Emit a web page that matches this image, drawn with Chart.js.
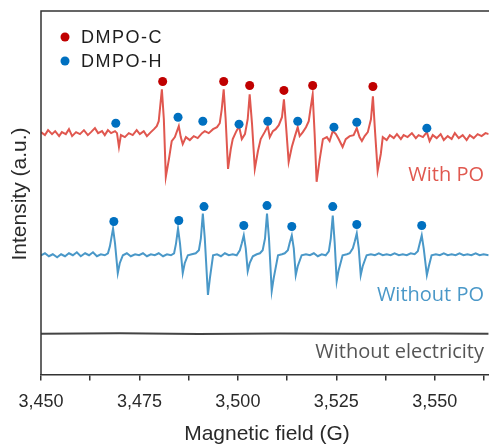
<!DOCTYPE html>
<html>
<head>
<meta charset="utf-8">
<script src="https://cdn.jsdelivr.net/npm/chart.js@4"></script>
<style>
  body { margin: 0; background: #fff; }
  #wrap { width: 489px; height: 445px; overflow: hidden; }
</style>
</head>
<body>
<div id="wrap"><canvas id="chart" width="495" height="445"></canvas></div>
<script>
// x tick values shown on the axis (G)
const xTickLabels = [3450, 3475, 3500, 3525, 3550];

// With PO trace: magnetic field (G) and intensity (a.u., offset)
const withPoField = [3450.0, 3451.0, 3451.8, 3452.8, 3453.6, 3454.6, 3455.3, 3456.3, 3457.1, 3457.9, 3458.9, 3459.9, 3460.9, 3461.9, 3462.7, 3463.7, 3464.5, 3465.5, 3466.2, 3467.0, 3467.8, 3468.8, 3469.3, 3469.8, 3470.3, 3471.3, 3472.3, 3473.3, 3474.3, 3475.1, 3476.1, 3476.9, 3477.9, 3478.7, 3479.4, 3479.9, 3480.7, 3481.2, 3481.7, 3482.5, 3483.2, 3484.0, 3485.0, 3485.5, 3486.0, 3486.8, 3487.8, 3488.8, 3489.8, 3490.9, 3491.6, 3492.6, 3493.7, 3494.7, 3495.4, 3495.9, 3496.4, 3496.9, 3497.5, 3498.2, 3498.7, 3499.5, 3500.3, 3501.0, 3501.8, 3502.5, 3503.0, 3503.6, 3504.3, 3505.1, 3505.8, 3506.8, 3507.6, 3508.1, 3508.9, 3509.6, 3510.4, 3511.2, 3511.7, 3512.2, 3512.9, 3513.7, 3514.5, 3515.2, 3515.7, 3516.5, 3517.3, 3518.0, 3518.5, 3519.0, 3519.5, 3520.0, 3520.8, 3521.6, 3522.6, 3523.3, 3524.1, 3524.9, 3525.6, 3526.6, 3527.4, 3528.4, 3529.4, 3530.2, 3530.9, 3531.5, 3532.2, 3533.0, 3533.8, 3534.3, 3534.8, 3535.5, 3536.3, 3536.8, 3537.8, 3538.6, 3539.6, 3540.4, 3541.4, 3542.1, 3543.1, 3544.2, 3545.2, 3545.9, 3547.0, 3548.0, 3548.7, 3549.5, 3550.5, 3551.5, 3552.3, 3553.3, 3554.3, 3555.1, 3556.1, 3557.1, 3558.1, 3558.9, 3559.9, 3560.9, 3561.9, 3562.9, 3563.7];
const withPoIntensity = [244, 241, 246, 242, 245, 240, 244, 242, 247, 240, 244, 242, 246, 241, 244, 248, 243, 245, 241, 246, 243, 245, 243, 229, 241, 239, 243, 241, 246, 242, 245, 240, 244, 247, 250, 255, 287, 257, 199, 217, 235, 239, 250, 239, 232, 239, 236, 240, 238, 243, 245, 243, 247, 249, 253, 267, 287, 257, 207, 227, 237, 244, 250, 237, 242, 257, 282, 252, 207, 225, 237, 244, 250, 239, 245, 247, 251, 259, 277, 252, 214, 229, 240, 249, 240, 244, 249, 255, 269, 282, 242, 194, 217, 237, 239, 235, 245, 242, 237, 229, 237, 240, 241, 248, 239, 235, 240, 244, 257, 280, 247, 205, 222, 239, 236, 241, 238, 242, 237, 241, 239, 243, 238, 241, 239, 244, 235, 241, 238, 242, 236, 240, 237, 243, 238, 241, 236, 241, 238, 242, 240, 243, 242];

// Without PO trace
const withoutPoField = [3450.0, 3451.0, 3452.0, 3453.0, 3454.1, 3455.1, 3456.1, 3457.1, 3458.1, 3459.1, 3460.1, 3461.2, 3462.2, 3463.2, 3464.2, 3465.2, 3466.2, 3467.0, 3467.5, 3468.3, 3468.8, 3469.5, 3470.0, 3470.8, 3471.8, 3472.8, 3473.9, 3474.9, 3475.9, 3476.9, 3477.9, 3478.9, 3479.9, 3481.0, 3482.0, 3483.0, 3483.8, 3484.3, 3484.8, 3485.3, 3486.0, 3486.5, 3487.3, 3488.3, 3489.3, 3490.1, 3490.6, 3491.1, 3491.6, 3492.4, 3492.9, 3493.7, 3494.7, 3495.7, 3496.7, 3497.7, 3498.7, 3499.7, 3500.5, 3501.0, 3501.5, 3502.0, 3502.5, 3503.0, 3503.8, 3504.8, 3505.6, 3506.3, 3506.9, 3507.4, 3507.9, 3508.6, 3509.1, 3510.2, 3511.2, 3511.9, 3512.7, 3513.2, 3513.7, 3514.2, 3514.7, 3515.2, 3516.2, 3517.3, 3518.3, 3519.3, 3520.3, 3521.3, 3522.3, 3523.1, 3523.6, 3524.1, 3524.6, 3525.1, 3525.6, 3526.6, 3527.7, 3528.4, 3529.2, 3529.7, 3530.2, 3530.7, 3531.2, 3531.7, 3532.7, 3533.8, 3534.8, 3535.8, 3536.8, 3537.8, 3538.8, 3539.8, 3540.9, 3541.9, 3542.9, 3543.9, 3544.9, 3545.7, 3546.2, 3546.7, 3547.2, 3548.0, 3548.5, 3549.2, 3550.3, 3551.3, 3552.3, 3553.3, 3554.3, 3555.3, 3556.3, 3557.3, 3558.3, 3559.3, 3560.4, 3561.4, 3562.4, 3563.7];
const withoutPoIntensity = [120, 122, 119, 121, 118, 121, 119, 122, 120, 123, 119, 122, 120, 123, 119, 121, 120, 122, 129, 147, 132, 102, 112, 120, 122, 119, 121, 120, 122, 119, 121, 120, 122, 119, 121, 120, 122, 132, 147, 132, 102, 112, 120, 121, 122, 125, 137, 162, 137, 80, 97, 120, 121, 119, 122, 120, 121, 120, 125, 132, 140, 127, 104, 112, 119, 121, 122, 125, 137, 162, 137, 84, 97, 120, 121, 122, 125, 133, 140, 127, 100, 109, 120, 121, 120, 122, 119, 121, 120, 124, 137, 160, 132, 94, 105, 120, 121, 122, 127, 134, 142, 127, 100, 109, 120, 121, 120, 122, 120, 121, 120, 122, 120, 121, 120, 122, 121, 124, 132, 140, 127, 100, 109, 120, 121, 120, 122, 120, 121, 120, 122, 120, 121, 120, 122, 120, 121, 120];

// Without electricity trace (flat)
const noPowerField = [3450, 3470, 3490, 3510, 3530, 3550, 3563.7];
const noPowerIntensity = [41, 41.4, 40.8, 41.3, 40.9, 41.2, 41];

// Marker positions: DMPO-C (red) and DMPO-H (blue)
const dmpoCField = [3480.9, 3496.4, 3503.0, 3511.7, 3519.0, 3534.3];
const dmpoCIntensity = [295, 295, 291, 286, 291, 290];
const dmpoHField = [3469.0, 3484.8, 3491.1, 3500.3, 3507.6, 3515.2, 3524.4, 3530.2, 3548.0,
                    3468.5, 3485.0, 3491.4, 3501.5, 3507.4, 3513.7, 3524.1, 3530.2, 3546.7];
const dmpoHIntensity = [253, 259, 255, 252, 255, 255, 249, 254, 248,
                        154, 155, 169, 150, 170, 149, 169, 151, 150];

function toPoints(xs, ys) {
    return xs.map((x, i) => ({ x: x, y: ys[i] }));
}

const overlay = {
    id: 'overlay',
    afterDraw(chart) {
        const ctx = chart.ctx;
        const a = chart.chartArea;
        ctx.save();
        // frame: top and left lines
        ctx.strokeStyle = '#333';
        ctx.lineWidth = 1.5;
        ctx.beginPath();
        ctx.moveTo(chart.width, a.top);
        ctx.lineTo(a.left, a.top);
        ctx.lineTo(a.left, a.bottom);
        ctx.stroke();

        // legend
        ctx.font = '18px "Liberation Sans", Arial, sans-serif';
        ctx.textBaseline = 'middle';
        ctx.letterSpacing = '1.5px';
        [['DMPO-C', '#c00000', 37], ['DMPO-H', '#0070c0', 61]].forEach(([t, c, y]) => {
            ctx.fillStyle = c;
            ctx.beginPath();
            ctx.arc(65, y, 4.5, 0, Math.PI * 2);
            ctx.fill();
            ctx.fillStyle = '#1e1e1e';
            ctx.fillText(t, 81, y + 1);
        });
        ctx.letterSpacing = '0px';

        // trace labels
        ctx.font = '20px "Open Sans", sans-serif';
        ctx.textAlign = 'right';
        ctx.fillStyle = '#e0584f';
        ctx.fillText('With PO', 484, 175);
        ctx.fillStyle = '#4a98c8';
        ctx.fillText('Without PO', 484, 295);
        ctx.fillStyle = '#555';
        ctx.fillText('Without electricity', 484, 352);

        // axis titles
        ctx.fillStyle = '#2a2a2a';
        ctx.textAlign = 'center';
        ctx.font = '21px "Liberation Sans", Arial, sans-serif';
        ctx.fillText('Magnetic field (G)', 267, 434);
        ctx.translate(20, 194);
        ctx.rotate(-Math.PI / 2);
        ctx.fillText('Intensity (a.u.)', 0, 0);
        ctx.restore();
    }
};

const ticksAt = [];
for (let v = 3450; v <= 3562.5; v += 12.5) ticksAt.push(v);

new Chart(document.getElementById('chart'), {
    type: 'line',
    data: {
        datasets: [
            {
                label: 'DMPO-C',
                type: 'scatter',
                data: toPoints(dmpoCField, dmpoCIntensity),
                backgroundColor: '#c00000',
                borderWidth: 0,
                pointRadius: 4.5,
            },
            {
                label: 'DMPO-H',
                type: 'scatter',
                data: toPoints(dmpoHField, dmpoHIntensity),
                backgroundColor: '#0070c0',
                borderWidth: 0,
                pointRadius: 4.5,
            },
            {
                label: 'With PO',
                data: toPoints(withPoField, withPoIntensity),
                borderColor: '#e0574f',
                borderWidth: 2,
                pointRadius: 0,
                tension: 0,
            },
            {
                label: 'Without PO',
                data: toPoints(withoutPoField, withoutPoIntensity),
                borderColor: '#4a98c8',
                borderWidth: 2,
                pointRadius: 0,
                tension: 0,
            },
            {
                label: 'Without electricity',
                data: toPoints(noPowerField, noPowerIntensity),
                borderColor: '#444',
                borderWidth: 2,
                pointRadius: 0,
                tension: 0,
            },
        ],
    },
    options: {
        responsive: false,
        animation: false,
        layout: { padding: { left: 41, top: 11, right: 0, bottom: 21 } },
        plugins: { legend: { display: false }, tooltip: { enabled: false } },
        scales: {
            x: {
                type: 'linear',
                min: 3450,
                max: 3563.7,
                afterBuildTicks: (scale) => { scale.ticks = ticksAt.map(v => ({ value: v })); },
                ticks: {
                    padding: 11,
                    color: '#2a2a2a',
                    font: { size: 18, family: '"Liberation Sans", Arial, sans-serif' },
                    maxRotation: 0,
                    autoSkip: false,
                    callback: (v) => xTickLabels.includes(v) ? v.toLocaleString('en-US') : '',
                },
                grid: { display: true, drawOnChartArea: false, drawTicks: true, tickLength: 6, color: '#333', lineWidth: 1.5 },
                border: { display: true, color: '#333', width: 1.5 },
            },
            y: {
                display: false,
                min: 0,
                max: 366,
            },
        },
    },
    plugins: [overlay],
});
</script>
</body>
</html>
